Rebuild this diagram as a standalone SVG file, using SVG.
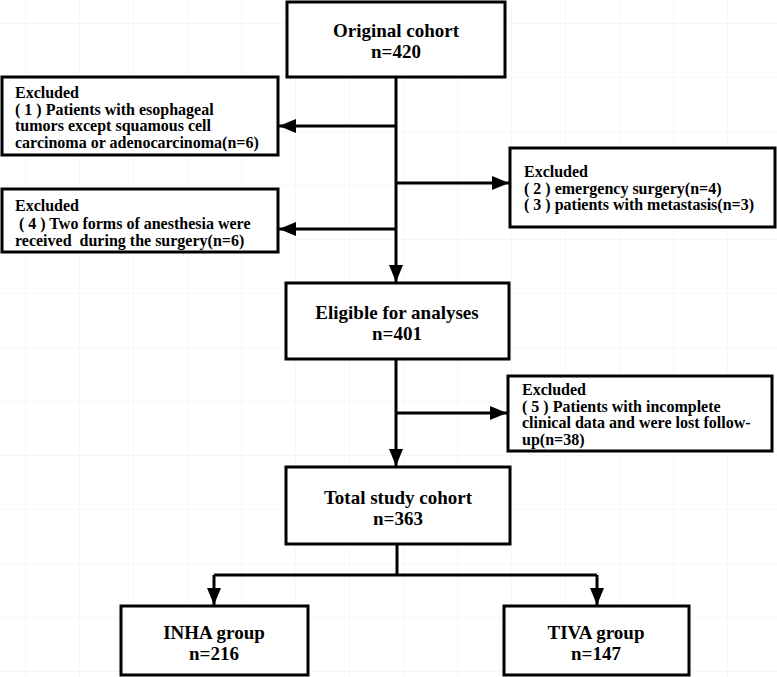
<svg xmlns="http://www.w3.org/2000/svg" width="777" height="677" viewBox="0 0 777 677">
<defs>
<pattern id="grid" x="25" y="23" width="54" height="54" patternUnits="userSpaceOnUse">
<path d="M0,0 H54 M0,0 V54" fill="none" stroke="#f0f0f0" stroke-width="1"/>
</pattern>
<marker id="arr" markerUnits="userSpaceOnUse" markerWidth="17" markerHeight="14" refX="17" refY="7" orient="auto">
<path d="M0,0 L17,7 L0,14 z" fill="#000"/>
</marker>
</defs>
<style>
.box{fill:#fff;stroke:#000;stroke-width:3}
.t{font-family:"Liberation Serif","Times New Roman",serif;font-weight:bold;fill:#000}
.big{font-size:19px;text-anchor:middle}
.sm{font-size:16px}
.c{fill:none;stroke:#000;stroke-width:3}
</style>
<rect width="777" height="677" fill="#fff"/>
<rect width="777" height="677" fill="url(#grid)"/>
<g id="connectors">
<line class="c" x1="396" y1="77" x2="396" y2="282" marker-end="url(#arr)"/>
<line class="c" x1="396" y1="126" x2="279" y2="126" marker-end="url(#arr)"/>
<line class="c" x1="396" y1="183" x2="509" y2="183" marker-end="url(#arr)"/>
<line class="c" x1="396" y1="229" x2="279" y2="229" marker-end="url(#arr)"/>
<line class="c" x1="396" y1="359" x2="396" y2="466" marker-end="url(#arr)"/>
<line class="c" x1="396" y1="413" x2="507" y2="413" marker-end="url(#arr)"/>
<line class="c" x1="397" y1="544" x2="397" y2="575"/>
<line class="c" x1="214" y1="575" x2="597" y2="575"/>
<line class="c" x1="214" y1="575" x2="214" y2="605" marker-end="url(#arr)"/>
<line class="c" x1="597" y1="575" x2="597" y2="605" marker-end="url(#arr)"/>
</g>
<g id="original">
<rect class="box" x="287" y="2" width="218" height="75"/>
<text class="t big" x="396" y="37">Original cohort</text>
<text class="t big" x="396" y="58">n=420</text>
</g>
<g id="excl1">
<rect class="box" x="2" y="77" width="276" height="78"/>
<text class="t sm" x="15" y="98">Excluded</text>
<text class="t sm" x="15" y="114.5">( 1 ) Patients with esophageal</text>
<text class="t sm" x="15" y="131">tumors except squamous cell</text>
<text class="t sm" x="15" y="147.5">carcinoma or adenocarcinoma(n=6)</text>
</g>
<g id="excl23">
<rect class="box" x="510" y="148" width="265" height="79"/>
<text class="t sm" x="524" y="177">Excluded</text>
<text class="t sm" x="524" y="193.5">( 2 ) emergency surgery(n=4)</text>
<text class="t sm" x="524" y="210">( 3 ) patients with metastasis(n=3)</text>
</g>
<g id="excl4">
<rect class="box" x="2" y="189" width="276" height="63"/>
<text class="t sm" x="15" y="211">Excluded</text>
<text class="t sm" x="15" y="228.5" xml:space="preserve"> ( 4 ) Two forms of anesthesia were</text>
<text class="t sm" x="15" y="246" xml:space="preserve">received  during the surgery(n=6)</text>
</g>
<g id="eligible">
<rect class="box" x="286" y="283" width="223" height="76"/>
<text class="t big" x="397" y="319">Eligible for analyses</text>
<text class="t big" x="397" y="340">n=401</text>
</g>
<g id="excl5">
<rect class="box" x="508" y="376" width="264" height="75"/>
<text class="t sm" x="522" y="395">Excluded</text>
<text class="t sm" x="522" y="411.5">( 5 ) Patients with incomplete</text>
<text class="t sm" x="522" y="428">clinical data and were lost follow-</text>
<text class="t sm" x="522" y="444.5">up(n=38)</text>
</g>
<g id="total">
<rect class="box" x="286" y="467" width="224" height="77"/>
<text class="t big" x="398" y="504">Total study cohort</text>
<text class="t big" x="398" y="525">n=363</text>
</g>
<g id="inha">
<rect class="box" x="121" y="606" width="187" height="69"/>
<text class="t big" x="214" y="639">INHA group</text>
<text class="t big" x="214" y="660">n=216</text>
</g>
<g id="tiva">
<rect class="box" x="504" y="606" width="185" height="69"/>
<text class="t big" x="596" y="639">TIVA group</text>
<text class="t big" x="596" y="660">n=147</text>
</g>
</svg>
